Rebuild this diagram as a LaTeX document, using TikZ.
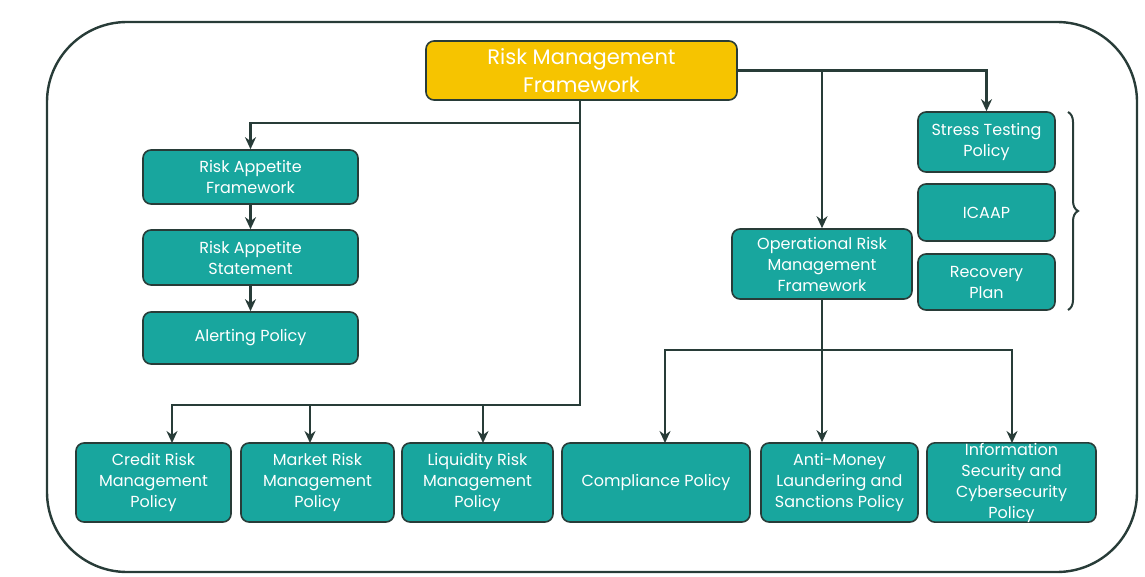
\documentclass[tikz,border=0pt]{standalone}
\usepackage{fontspec}
\setmainfont{Poppins}
\usetikzlibrary{arrows.meta,decorations.pathreplacing}
\definecolor{tealbox}{RGB}{24,166,158}
\definecolor{goldbox}{RGB}{246,196,0}
\definecolor{edge}{RGB}{40,60,56}
\begin{document}
\begin{tikzpicture}[>={Stealth[length=12pt,width=11pt]},x=1pt,y=-1pt,
		box/.style={draw=edge,fill=tealbox,text=white,line width=1.6pt,rounded corners=8pt,align=center,inner sep=0pt,font=\fontsize{16}{21}\selectfont},
		link/.style={draw=edge,line width=2.6pt}]
		
		\useasboundingbox (0,0) rectangle (1145,577);
		\draw [edge,line width=2.4pt,rounded corners=80pt] (47,22) rectangle (1137,572);
		
		\node [box,fill=goldbox,minimum width=311pt,minimum height=59pt,font=\fontsize{21}{28}\selectfont] (rmf) at (581.5,70.5) {Risk Management\\Framework};
		
		\node [box,minimum width=215pt,minimum height=54pt] (raf) at (250.5,177) {Risk Appetite\\Framework};
		\node [box,minimum width=215pt,minimum height=55pt] (ras) at (250.5,257.5) {Risk Appetite\\Statement};
		\node [box,minimum width=215pt,minimum height=52pt] (alert) at (250.5,338) {Alerting Policy};
		
		\node [box,minimum width=137pt,minimum height=60pt] (stress) at (986.5,142) {Stress Testing\\Policy};
		\node [box,minimum width=137pt,minimum height=57pt] (icaap) at (986.5,212.5) {ICAAP};
		\node [box,minimum width=137pt,minimum height=56pt] (recovery) at (986.5,282) {Recovery\\Plan};
		\node [box,minimum width=180pt,minimum height=70pt] (ormf) at (822,264) {Operational Risk\\Management\\Framework};
		
		\node [box,minimum width=155pt,minimum height=79pt] (credit) at (153.5,482.5) {Credit Risk\\Management\\Policy};
		\node [box,minimum width=153pt,minimum height=79pt] (market) at (317.5,482.5) {Market Risk\\Management\\Policy};
		\node [box,minimum width=151pt,minimum height=79pt] (liquidity) at (477.5,482.5) {Liquidity Risk\\Management\\Policy};
		\node [box,minimum width=188pt,minimum height=79pt] (compliance) at (656,482.5) {Compliance Policy};
		\node [box,minimum width=157pt,minimum height=79pt] (aml) at (839.5,482.5) {Anti-Money\\Laundering and\\Sanctions Policy};
		\node [box,minimum width=169pt,minimum height=79pt] (infosec) at (1011.5,482.5) {Information\\Security and\\Cybersecurity\\Policy};
		
		% left branch
		\coordinate (split) at (580,123);
		\coordinate (busL) at (580,405);
		\draw [link,->] (rmf.south -| split) -- (split) -| (raf.north);
		\draw [link,->] (raf) -- (ras);
		\draw [link,->] (ras) -- (alert);
		\draw [link,->] (split) -- (busL) -| (172,443);
		\draw [link,->] (310,405) -- (310,443);
		\draw [link,->] (483,405) -- (483,443);
		
		% right branch
		\draw [link,->] (rmf.east) -| (stress.north);
		\draw [link,->] (rmf.east -| ormf.north) -- (ormf.north);
		\coordinate (busR) at (822,350);
		\draw [link,->] (ormf.south) -- (ormf.south |- aml.north);
		\draw [link,->] (busR) -| (665,443);
		\draw [link,->] (busR) -| (1012,443);
		
		\draw [edge,line width=2pt,decorate,decoration={brace,amplitude=10pt}] (1068,112) -- (1068,310);
	\end{tikzpicture}
\end{document}
